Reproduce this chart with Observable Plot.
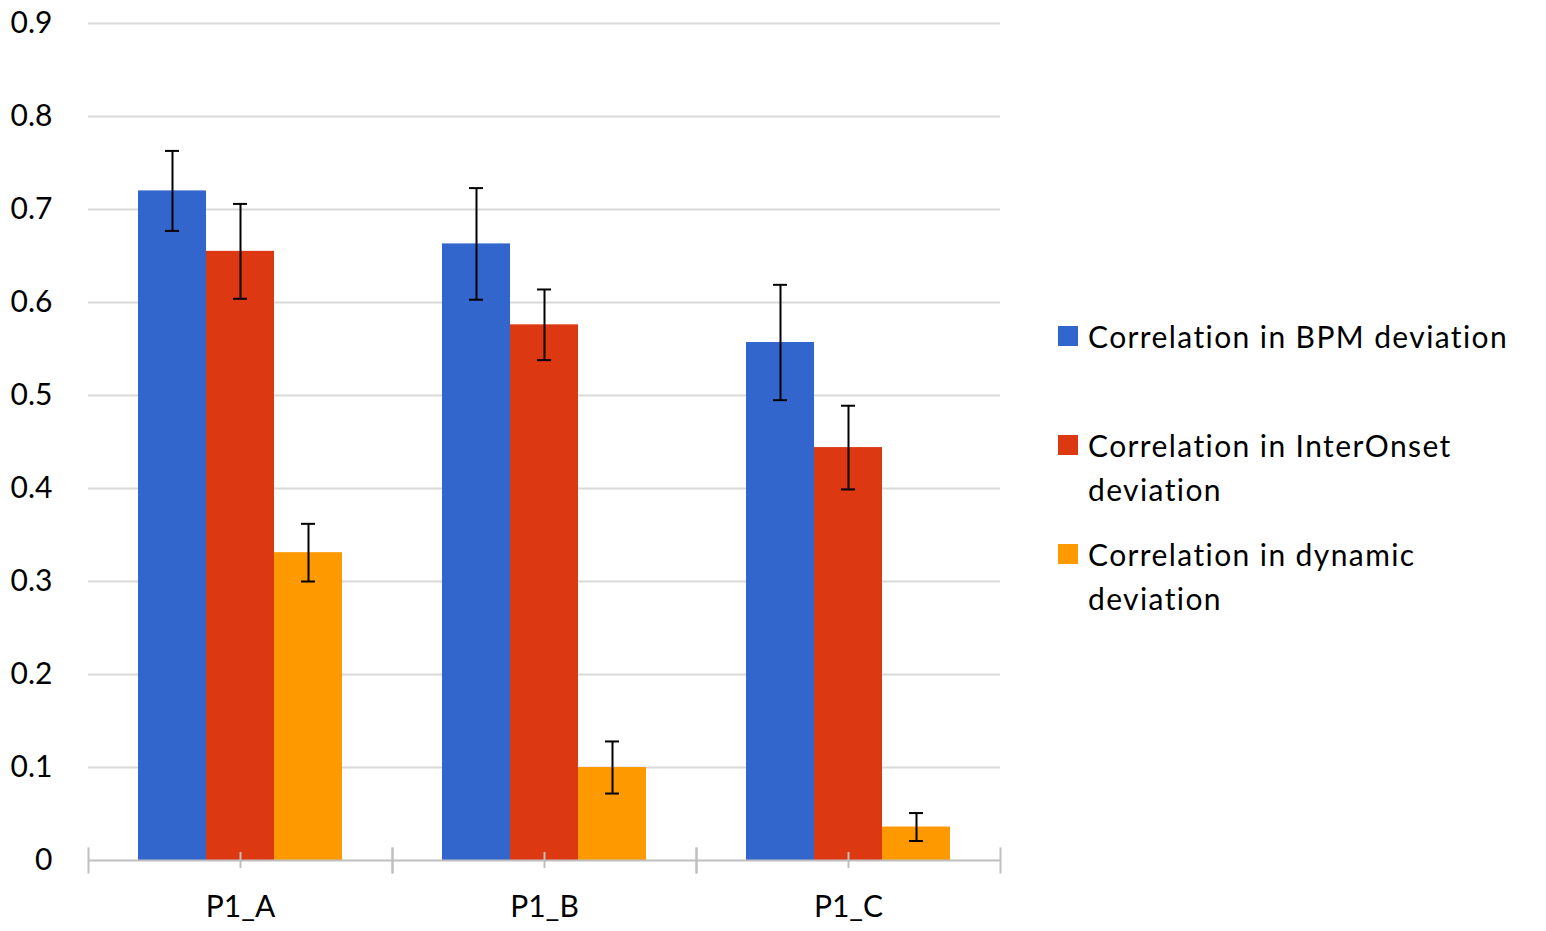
<!DOCTYPE html>
<html>
<head>
<meta charset="utf-8">
<script src="https://cdn.jsdelivr.net/npm/d3@7"></script>
<script src="https://cdn.jsdelivr.net/npm/@observablehq/plot@0.6"></script>
<style>
  html, body { margin: 0; padding: 0; background: #fff; }
  #wrap { position: relative; width: 1546px; height: 931px; font-family: Lato, "Open Sans", sans-serif; }
  #chart { position: absolute; left: 0; top: 0; }
  #legend { position: absolute; left: 1058px; top: 314px; width: 480px; }
  .item { display: flex; align-items: flex-start; height: 109px; }
  .sw { width: 20px; height: 20px; flex: none; margin-top: 12px; margin-right: 10px; }
  .lab { font-size: 30px; line-height: 44px; color: #000; letter-spacing: 1.4px; width: 440px; }
</style>
</head>
<body>
<div id="wrap">
  <div id="chart"></div>
  <div id="legend"></div>
</div>
<script>
const groups = ["P1_A", "P1_B", "P1_C"];
const seriesNames = [
  "Correlation in BPM deviation",
  "Correlation in InterOnset deviation",
  "Correlation in dynamic deviation"
];
const bpmValues = [0.720, 0.663, 0.557];
const bpmErrors = [0.043, 0.060, 0.062];
const interOnsetValues = [0.655, 0.576, 0.444];
const interOnsetErrors = [0.051, 0.038, 0.045];
const dynamicValues = [0.331, 0.100, 0.036];
const dynamicErrors = [0.031, 0.028, 0.015];
const seriesColors = ["#3366CC", "#DC3912", "#FF9900"];
const yTicks = [0, 0.1, 0.2, 0.3, 0.4, 0.5, 0.6, 0.7, 0.8, 0.9];

const valueSets = [bpmValues, interOnsetValues, dynamicValues];
const errorSets = [bpmErrors, interOnsetErrors, dynamicErrors];
const rows = [];
groups.forEach((g, gi) => {
  seriesNames.forEach((s, si) => {
    const v = valueSets[si][gi], e = errorSets[si][gi];
    rows.push({group: g, series: s, value: v, lo: v - e, hi: v + e});
  });
});

const H = 931, MT = 23, MB = 71;
const plotH = H - MT - MB;

const chart = Plot.plot({
  width: 1010,
  height: H,
  marginLeft: 88,
  marginRight: 10,
  marginTop: MT,
  marginBottom: MB,
  style: {fontFamily: "Lato, 'Open Sans', sans-serif", fontSize: "30px", color: "#000", background: "#fff"},
  fx: {domain: groups, padding: 0, label: null},
  x: {domain: seriesNames, paddingInner: 0, paddingOuter: 0.735, axis: null},
  y: {domain: [0, 0.9], label: null},
  color: {domain: seriesNames, range: seriesColors},
  marks: [
    Plot.gridY(yTicks.filter(d => d > 0), {stroke: "#d9d9d9", strokeOpacity: 1, strokeWidth: 2}),
    Plot.axisY(yTicks, {tickSize: 0, tickPadding: 36, fontSize: 30, label: null, tickFormat: d => String(d)}),
    Plot.barY(rows, {fx: "group", x: "series", y: "value", fill: "series"}),
    Plot.ruleY([0], {stroke: "#bfbfbf", strokeWidth: 2}),
    Plot.frame({anchor: "left", stroke: "#bfbfbf", strokeWidth: 2, insetTop: plotH - 12, insetBottom: -12}),
    Plot.frame({anchor: "right", stroke: "#bfbfbf", strokeWidth: 2, insetTop: plotH - 12, insetBottom: -12}),
    Plot.axisFx({anchor: "bottom", tickSize: 16, dy: -8, tickPadding: 27, stroke: "#bfbfbf", strokeWidth: 2, fontSize: 30, label: null}),
    Plot.ruleX(rows, {fx: "group", x: "series", y1: "lo", y2: "hi", stroke: "#000", strokeWidth: 2}),
    Plot.tickY(rows, {fx: "group", x: "series", y: "lo", stroke: "#000", strokeWidth: 2, insetLeft: 27, insetRight: 27}),
    Plot.tickY(rows, {fx: "group", x: "series", y: "hi", stroke: "#000", strokeWidth: 2, insetLeft: 27, insetRight: 27})
  ]
});
document.getElementById("chart").appendChild(chart);

const legend = document.getElementById("legend");
seriesNames.forEach((s, i) => {
  const item = document.createElement("div");
  item.className = "item";
  const sw = document.createElement("div");
  sw.className = "sw";
  sw.style.background = seriesColors[i];
  const lab = document.createElement("div");
  lab.className = "lab";
  lab.textContent = s;
  item.appendChild(sw);
  item.appendChild(lab);
  legend.appendChild(item);
});
</script>
</body>
</html>
